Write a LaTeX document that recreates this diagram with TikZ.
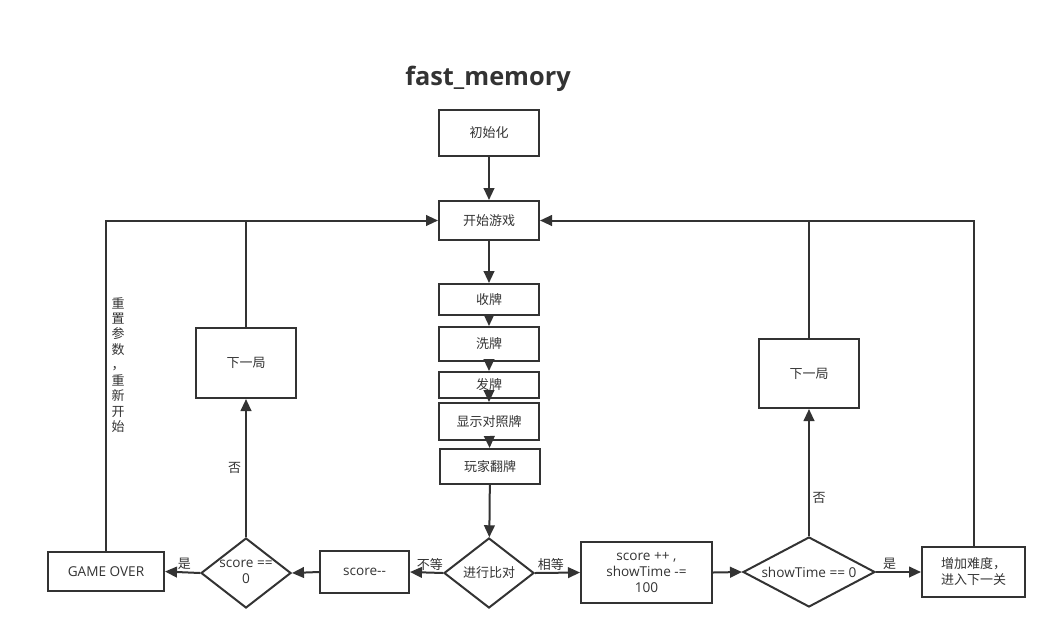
\documentclass[tikz,border=0pt]{standalone}
\usepackage{fontspec}
\setmainfont{Noto Sans CJK SC}
\newfontfamily\titlefont{Open Sans}
\newfontfamily\lat{Open Sans}
\usetikzlibrary{arrows.meta,shapes.geometric}
\definecolor{linec}{HTML}{333333}
\begin{document}
\begin{tikzpicture}[x=0.75pt,y=-0.75pt,
  every node/.style={font=\fontsize{9.75}{12}\selectfont, text=linec},
  latin/.style={font=\lat\fontsize{10.2}{12}\selectfont},
  box/.style={draw=linec, line width=1.5pt, rectangle, inner sep=1pt, align=center},
  dia/.style={draw=linec, line width=1.5pt, diamond, inner sep=0pt},
  arr/.style={draw=linec, line width=1.5pt, -{Triangle[length=9pt,width=8pt]}},
  ln/.style={draw=linec, line width=1.5pt},
  lab/.style={inner sep=1pt}]
\useasboundingbox (0,0) rectangle (1057,640);
% title
\node[font=\titlefont\bfseries\fontsize{19}{22}\selectfont] (title) at (488,79) {fast\_memory};
% main column
\node[box, minimum width=75pt, minimum height=34.5pt] (init) at (489,133) {初始化};
\node[box, minimum width=75pt, minimum height=29.25pt] (start) at (489,220.5) {开始游戏};
\node[box, minimum width=75pt, minimum height=23.25pt] (shou) at (489,299.5) {收牌};
\node[box, minimum width=75pt, minimum height=25.5pt] (xi) at (489,344) {洗牌};
\node[box, minimum width=75pt, minimum height=19.5pt] (fa) at (489,385) {发牌};
\node[box, minimum width=75pt, minimum height=27.75pt] (xs) at (489,421.5) {显示对照牌};
\node[box, minimum width=75pt, minimum height=26.25pt] (wj) at (490,466.5) {玩家翻牌};
% compare diamond
\node[dia, minimum width=67.5pt, minimum height=52.5pt] (cmp) at (489,573) {};
\node (cmpt) at (cmp) {进行比对};
% left branch
\node[box, latin, minimum width=66.75pt, minimum height=31.5pt] (sm) at (364.5,572) {score{-}{-}};
\node[dia, minimum width=67.5pt, minimum height=52.5pt] (sz) at (246,573) {};
\node[latin, align=center] (szt) at (246,572) {score ==\\0};
\node[box, latin, minimum width=87pt, minimum height=29.25pt] (go) at (106,571.5) {GAME OVER};
\node[box, minimum width=75pt, minimum height=52.5pt] (nl) at (246,363) {下一局};
% right branch
\node[box, latin, minimum width=98.25pt, minimum height=45.75pt] (sp) at (646.5,572.5) {score ++ ,\\showTime -=\\100};
\node[dia, minimum width=99pt, minimum height=52.5pt] (st) at (809,572) {};
\node[latin] (stt) at (st) {showTime == 0};
\node[box, minimum width=77.25pt, minimum height=37.5pt] (inc) at (973.5,572) {增加难度，\\进入下一关};
\node[box, minimum width=75pt, minimum height=51.75pt] (nr) at (809,373.5) {下一局};
% connectors main column
\draw[arr] (init) -- (start);
\draw[arr] (start) -- (shou);
\draw[arr] (shou) -- (xi);
\draw[arr] (xi) -- (fa);
\draw[arr] (fa) -- (xs);
\draw[arr] (xs) -- (wj);
\draw[arr] (wj) -- (cmp);
% compare branches
\draw[arr] (cmp.west) -- (sm.east) node[lab, pos=0.4, above] (bd) {不等};
\draw[arr] (cmp.east) -- (sp.west) node[lab, pos=0.35, above] (xd) {相等};
\draw[arr] (sm.west) -- (sz.east);
\draw[arr] (sz.west) -- (go.east) node[lab, pos=0.45, above] (shi1) {是};
\draw[arr] (sz.north) -- (nl.south) node[lab, pos=0.5, left=2pt] (fou1) {否};
\draw[arr] (go.north) |- (start.west);
\draw[ln] (nl.north) -- (nl.north |- start.west);
\draw[arr] (sp.east) -- (st.west);
\draw[arr] (st.east) -- (inc.west) node[lab, pos=0.3, above] (shi2) {是};
\draw[arr] (st.north) -- (nr.south) node[lab, pos=0.3, right=1pt] (fou2) {否};
\draw[arr] (inc.north) |- (start.east);
\draw[ln] (nr.north) -- (nr.north |- start.east);
% vertical label
\node[align=center, font=\fontsize{9.75}{11.6}\selectfont] (reset) at (118,365) {重\\置\\参\\数\\，\\重\\新\\开\\始};
\end{tikzpicture}
\end{document}
